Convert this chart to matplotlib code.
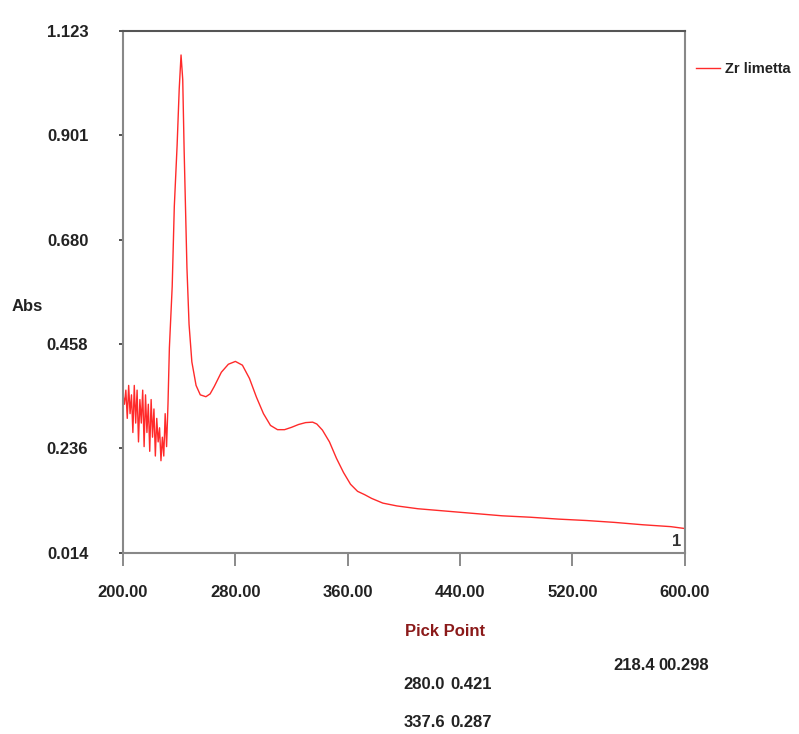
"""UV-Vis abszorpciós spektrum: Zr limetta, pick point feliratokkal."""

import matplotlib

matplotlib.use("Agg")
import matplotlib.pyplot as plt

# ---------------------------------------------------------------------------
# Adatok
# ---------------------------------------------------------------------------

WAVELENGTH_NM = [
    200, 201, 202, 203, 204, 205, 206, 207, 208, 209, 210, 211, 212, 213,
    214, 215, 216, 217, 218, 219, 220, 221, 222, 223, 224, 225, 226, 227,
    228, 229, 230, 231, 232, 233, 235, 236.5, 238.5, 240, 241.3, 242.5,
    243.5, 245.5, 247, 249, 252, 255, 259, 262, 265, 270, 275, 280, 285,
    290, 295, 300, 305, 310, 315, 320, 325, 330, 335, 338, 342, 347, 352,
    357, 362, 367, 372, 377, 385, 395, 410, 430, 450, 470, 490, 510, 530,
    550, 570, 590, 600,
]
ABS = [
    0.350, 0.330, 0.360, 0.300, 0.370, 0.310, 0.350, 0.270, 0.370, 0.290,
    0.360, 0.250, 0.340, 0.290, 0.360, 0.240, 0.350, 0.270, 0.330, 0.230,
    0.340, 0.260, 0.320, 0.220, 0.300, 0.250, 0.280, 0.210, 0.260, 0.220,
    0.310, 0.240, 0.330, 0.450, 0.580, 0.750, 0.880, 1.000, 1.072, 1.020,
    0.870, 0.620, 0.500, 0.420, 0.370, 0.350, 0.346, 0.352, 0.368, 0.398,
    0.415, 0.421, 0.413, 0.385, 0.345, 0.310, 0.285, 0.276, 0.276, 0.281,
    0.287, 0.291, 0.292, 0.288, 0.275, 0.250, 0.215, 0.185, 0.160, 0.145,
    0.138, 0.130, 0.120, 0.114, 0.108, 0.103, 0.098, 0.093, 0.090, 0.086,
    0.083, 0.079, 0.074, 0.070, 0.066,
]

X_TICKS = [200, 280, 360, 440, 520, 600]
Y_TICKS = [0.014, 0.236, 0.458, 0.680, 0.901, 1.123]

PICK_POINTS = [("280.0", "0.421"), ("337.6", "0.287")]
EXTRA_PICK = ("218.4", "00.298")

FONT = ["Liberation Sans", "DejaVu Sans"]
FS = 12
TEXT_COLOR = "#222222"


def main() -> None:
    plt.rcParams["font.family"] = FONT
    plt.rcParams["font.weight"] = "bold"

    fig = plt.figure(figsize=(7.99, 7.34), dpi=100)
    ax = fig.add_axes([0.154, 0.2466, 0.703, 0.7112])

    ax.plot(WAVELENGTH_NM, ABS, color="#ff2a2a", linewidth=1.0, label="Zr limetta")

    ax.set_xlim(200, 600)
    ax.set_ylim(0.014, 1.123)
    ax.set_xticks(X_TICKS)
    ax.set_xticklabels([f"{v:.2f}" for v in X_TICKS])
    ax.set_yticks(Y_TICKS)
    ax.set_yticklabels([f"{v:.3f}" for v in Y_TICKS])

    ax.tick_params(axis="x", direction="out", length=9, width=1.2,
                   color="#777777", pad=14, labelsize=FS, labelcolor=TEXT_COLOR)
    ax.tick_params(axis="y", direction="out", length=3, width=1.2,
                   color="#333333", pad=22, labelsize=FS, labelcolor=TEXT_COLOR)

    for name, spine in ax.spines.items():
        spine.set_color("#555555" if name == "top" else "#888888")
        spine.set_linewidth(1.5)

    fig.text(0.014, 0.583, "Abs", fontsize=FS, color=TEXT_COLOR,
             ha="left", va="center")

    ax.text(0.993, 0.008, "1", transform=ax.transAxes, fontsize=FS,
            color="#333333", ha="right", va="bottom")

    ax.legend(loc="center left", bbox_to_anchor=(1.01, 0.927), frameon=False,
              handlelength=1.6, handletextpad=0.4, fontsize=10.5,
              labelcolor=TEXT_COLOR, borderaxespad=0.0)

    # --- Pick point feliratok ---
    fig.text(0.507, 0.139, "Pick Point", fontsize=FS, color="#8b1a1a",
             ha="left", va="center")
    for i, (wl, ab) in enumerate(PICK_POINTS):
        y = 0.068 - i * 0.052
        fig.text(0.505, y, wl, fontsize=FS, color=TEXT_COLOR, ha="left", va="center")
        fig.text(0.564, y, ab, fontsize=FS, color=TEXT_COLOR, ha="left", va="center")
    fig.text(0.768, 0.093, EXTRA_PICK[0], fontsize=FS, color=TEXT_COLOR,
             ha="left", va="center")
    fig.text(0.824, 0.093, EXTRA_PICK[1], fontsize=FS, color=TEXT_COLOR,
             ha="left", va="center")

    fig.savefig("out.png", dpi=100)
    plt.close(fig)


if __name__ == "__main__":
    main()
